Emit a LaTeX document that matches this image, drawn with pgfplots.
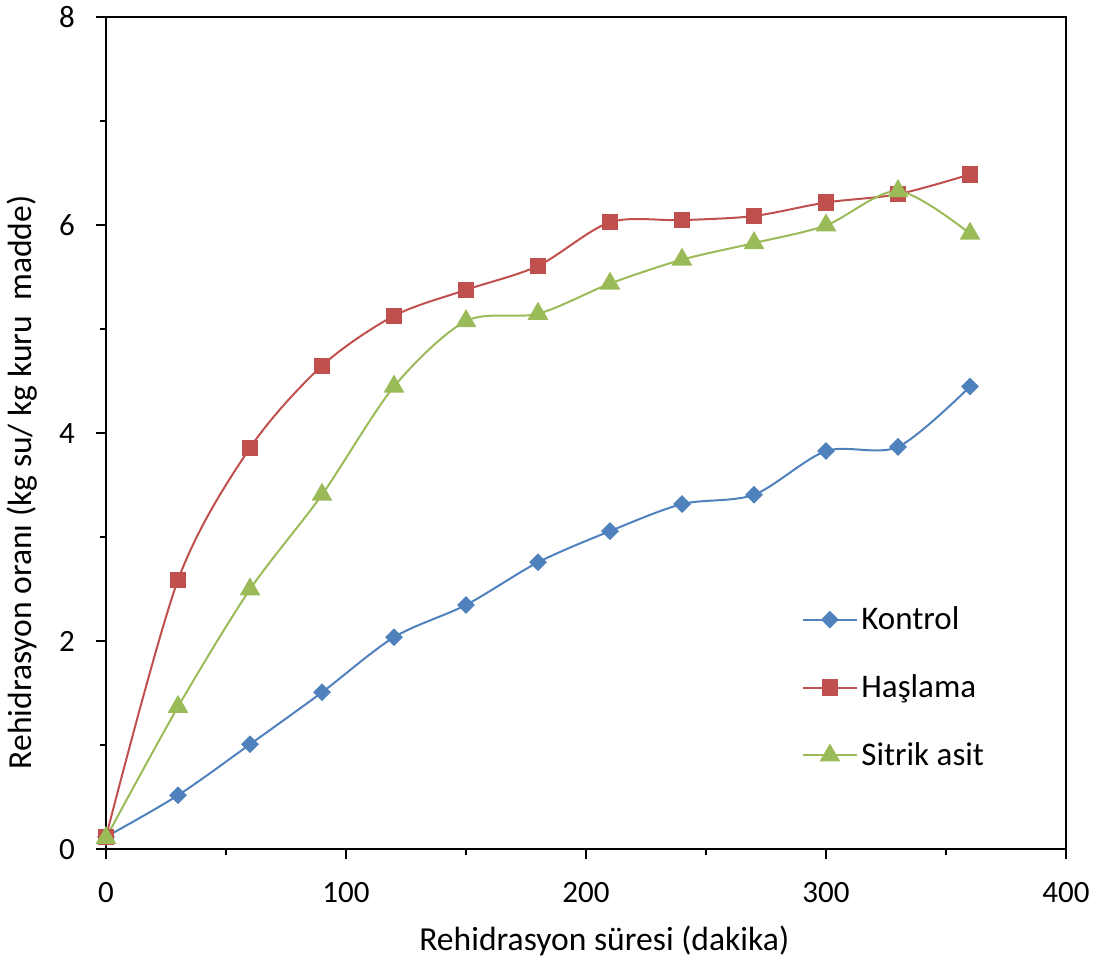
\documentclass[border=0pt]{standalone}
\usepackage{fontspec}
\setmainfont{Carlito}
\usepackage{pgfplots}
\pgfplotsset{compat=1.18}
\definecolor{cK}{HTML}{4F81BD}
\definecolor{cH}{HTML}{C0504D}
\definecolor{cS}{HTML}{9BBB59}
\begin{document}
\begin{tikzpicture}
\begin{axis}[
  scale only axis,
  width=480pt, height=416pt,
  xmin=0, xmax=400, ymin=0, ymax=8,
  xtick={0,100,...,400}, ytick={0,2,...,8},
  minor x tick num=1, minor y tick num=1,
  xtick pos=bottom, ytick pos=left,
  tick align=outside,
  major tick length=5pt, minor tick length=3pt,
  every tick/.style={black, line width=1pt},
  axis line style={line width=1pt},
  /pgf/number format/assume math mode=true,
  tick label style={font=\fontsize{15.5}{18}\selectfont},
  yticklabel style={xshift=-7pt},
  xticklabel style={yshift=-8pt},
  xlabel={Rehidrasyon süresi (dakika)},
  ylabel={Rehidrasyon oranı (kg su/ kg kuru\ \ madde)},
  label style={font=\fontsize{16.8}{20}\selectfont},
  xlabel style={at={(axis description cs:0.519,0)}, anchor=center, yshift=-46pt},
  ylabel style={at={(axis description cs:0,0.441)}, anchor=center, yshift=42pt},
  legend style={draw=none, fill=none, at={(axis description cs:0.725,0.297)}, anchor=north west,
    font=\fontsize{16.5}{19}\selectfont, row sep=17pt, inner sep=0pt},
  legend cell align=left,
  legend image code/.code={\draw[mark repeat=2,mark phase=2,#1] plot coordinates {(0pt,0pt) (13.25pt,0pt) (26.5pt,0pt)};},
  every axis plot/.append style={line width=1pt, smooth},
]
\addplot[cK, mark=square*, mark size=2.65pt, mark options={rotate=45, solid}] coordinates {
(0,0.12) (30,0.52) (60,1.01) (90,1.51) (120,2.04) (150,2.35) (180,2.76) (210,3.06) (240,3.32) (270,3.41) (300,3.83) (330,3.87) (360,4.45)};
\addlegendentry{Kontrol}
\addplot[cH, mark=square*, mark size=3.6pt] coordinates {
(0,0.12) (30,2.59) (60,3.86) (90,4.65) (120,5.13) (150,5.38) (180,5.61) (210,6.03) (240,6.05) (270,6.09) (300,6.22) (330,6.30) (360,6.49)};
\addlegendentry{Haşlama}
\addplot[cS, mark=triangle*, mark size=5pt] coordinates {
(0,0.11) (30,1.37) (60,2.50) (90,3.41) (120,4.45) (150,5.08) (180,5.15) (210,5.44) (240,5.67) (270,5.83) (300,6.00) (330,6.33) (360,5.92)};
\addlegendentry{Sitrik asit}
\end{axis}
\path (current axis.south west) +(-53pt,-59.5pt) (current axis.north east) +(20.5pt,8pt);
\end{tikzpicture}
\end{document}
